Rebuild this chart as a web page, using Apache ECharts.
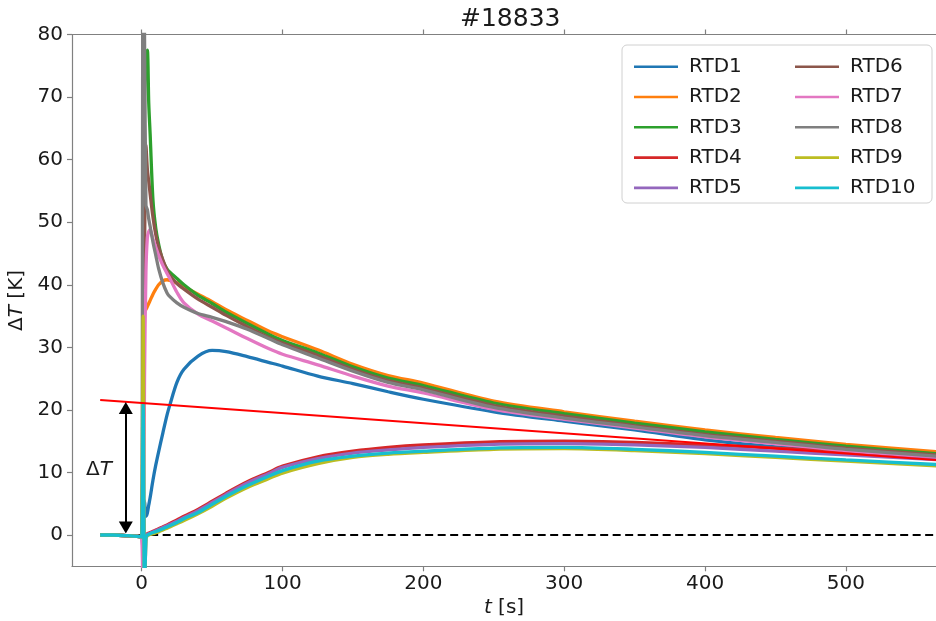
<!DOCTYPE html>
<html>
<head>
<meta charset="utf-8">
<script src="https://cdn.jsdelivr.net/npm/echarts@6/dist/echarts.min.js"></script>
<style>
  html, body { margin: 0; padding: 0; background: #fff; }
  #chart { width: 936px; height: 621px; }
</style>
</head>
<body>
<div id="chart"></div>
<script>
// time axis of the samples [s]
var times = [-29.5, -20, -10, -1, 0, 1, 2, 3, 4, 5, 6, 8, 10, 12, 15, 18, 20, 25, 30, 40, 50, 60, 75, 90, 100, 125, 150, 175, 200, 250, 300, 350, 400, 450, 500, 570];

var rtd1  = [0, 0, -0.1, -0.25, -0.3, -0.5, 5.5, 3, 3.5, 4.8, 6, 8.8, 11.2, 13.3, 16.3, 19.2, 20.8, 24.4, 26.5, 28.6, 29.5, 29.3, 28.5, 27.6, 27.0, 25.4, 24.2, 22.9, 21.7, 19.7, 18.2, 16.8, 15.2, 14.1, 13.3, 12.2];
var rtd2  = [0, 0, -0.1, -0.25, -0.3, 10, 45, 36, 36.5, 37, 37.5, 38.5, 39.3, 40, 40.6, 40.8, 40.7, 40.3, 39.7, 38.5, 37.3, 36.0, 34.3, 32.6, 31.7, 29.6, 27.3, 25.5, 24.3, 21.4, 19.7, 18.2, 16.8, 15.6, 14.5, 13.2];
var rtd3  = [0, 0, -0.1, -0.25, -0.3, 38, 70, 76, 77.5, 69, 64, 53.5, 49, 46.5, 43.8, 42.5, 42, 41, 40.0, 38.3, 37.0, 35.6, 33.8, 32.1, 31.1, 29.1, 26.9, 25.1, 23.9, 21.1, 19.4, 17.9, 16.5, 15.3, 14.2, 12.9];
var rtd4  = [0, 0, -0.1, -0.25, -0.3, 3, -1, 0, 0.2, 0.3, 0.4, 0.6, 0.8, 1.0, 1.3, 1.6, 1.85, 2.4, 3.0, 4.1, 5.4, 6.7, 8.5, 10.0, 11.0, 12.5, 13.4, 14.0, 14.4, 14.9, 15.0, 14.8, 14.4, 13.9, 13.3, 12.4];
var rtd5  = [0, 0, -0.1, -0.25, -0.3, -3, -10, -0.5, 0.1, 0.2, 0.3, 0.5, 0.7, 0.9, 1.2, 1.5, 1.7, 2.2, 2.8, 3.9, 5.2, 6.5, 8.3, 9.8, 10.8, 12.2, 13.1, 13.6, 14.0, 14.5, 14.6, 14.4, 14.0, 13.4, 12.8, 12.0];
var rtd6  = [0, 0, -0.1, -0.25, -0.3, 20, 45, 62.3, 58.5, 56.5, 54.5, 50.8, 48, 46, 44, 42.3, 41.5, 40.2, 39.3, 37.7, 36.4, 35.1, 33.3, 31.6, 30.7, 28.7, 26.5, 24.7, 23.5, 20.7, 19.0, 17.5, 16.1, 15.0, 13.9, 12.7];
var rtd7  = [0, 0, -0.1, -0.25, -0.3, -10, 25, 42, 47.5, 48.5, 48.8, 47.3, 46, 44.7, 43.1, 41.8, 41.0, 38.8, 37.1, 35.3, 34.2, 33.1, 31.4, 29.8, 28.9, 27.2, 25.4, 23.8, 22.7, 20.1, 18.5, 17.1, 15.7, 14.6, 13.5, 12.4];
var rtd8  = [0, 0, -0.1, -0.25, -0.3, 100, 80, 52.7, 52, 50.5, 49.3, 46.8, 44.7, 42.6, 40.3, 38.7, 38.1, 37.1, 36.4, 35.4, 34.8, 34.1, 32.9, 31.4, 30.4, 28.3, 26.2, 24.4, 23.2, 20.4, 18.7, 17.3, 15.9, 14.8, 13.7, 12.5];
var rtd9  = [0, 0, -0.1, -0.25, -0.3, 35, -10, -0.7, -0.1, 0, 0.1, 0.2, 0.35, 0.5, 0.8, 1.1, 1.3, 1.8, 2.3, 3.4, 4.6, 5.9, 7.6, 9.0, 9.9, 11.4, 12.4, 12.9, 13.2, 13.7, 13.8, 13.5, 13.0, 12.4, 11.8, 11.0];
var rtd10 = [0, 0, -0.1, -0.25, -0.3, 21, -10, -0.5, 0, 0.1, 0.2, 0.4, 0.55, 0.7, 1.0, 1.3, 1.5, 2.0, 2.6, 3.6, 4.9, 6.2, 7.9, 9.4, 10.3, 11.8, 12.6, 13.1, 13.4, 13.9, 14.0, 13.7, 13.2, 12.6, 12.0, 11.2];

var names  = ['RTD1', 'RTD2', 'RTD3', 'RTD4', 'RTD5', 'RTD6', 'RTD7', 'RTD8', 'RTD9', 'RTD10'];
var values = [rtd1, rtd2, rtd3, rtd4, rtd5, rtd6, rtd7, rtd8, rtd9, rtd10];
var colors = ['#1f77b4', '#ff7f0e', '#2ca02c', '#d62728', '#9467bd', '#8c564b', '#e377c2', '#7f7f7f', '#bcbd22', '#17becf'];

// red straight line and zero reference
var fitT = [-29.5, 570];
var fitV = [21.6, 11.9];
var zeroT = [-29.5, 570];
var zeroV = [0, 0];

// double arrow and its label
var arrowT = -11.3;
var arrowV = [1.2, 20.3];
var labelPos = [-30.3, 10.4];

var xTicks = [0, 100, 200, 300, 400, 500];
var yTicks = [0, 10, 20, 30, 40, 50, 60, 70, 80];

function zip(a, b) {
    return a.map(function (t, i) { return [t, b[i]]; });
}

var font = 'DejaVu Sans';
var spine = '#808080';
var ink = '#1a1a1a';

var chart = echarts.init(document.getElementById('chart'));

var series = [{
    name: 'zero',
    type: 'line',
    symbol: 'none',
    data: zip(zeroT, zeroV),
    lineStyle: { color: '#000', width: 2, type: [8, 4.5] },
    silent: true
}];

names.forEach(function (n, i) {
    series.push({
        name: n,
        type: 'line',
        symbol: 'none',
        smooth: 0.3,
        data: zip(times, values[i]),
        itemStyle: { color: colors[i] },
        lineStyle: { color: colors[i], width: 3.3 }
    });
});

series.push({
    name: 'fit',
    type: 'line',
    symbol: 'none',
    data: zip(fitT, fitV),
    lineStyle: { color: '#ff0000', width: 2 },
    silent: true
});

series.push({
    name: 'arrow',
    type: 'line',
    data: [],
    markLine: {
        silent: true,
        symbol: ['triangle', 'triangle'],
        symbolSize: [14, 12],
        label: { show: false },
        lineStyle: { color: '#000', width: 2, type: 'solid' },
        data: [[{ coord: [arrowT, arrowV[0]] }, { coord: [arrowT, arrowV[1]] }]]
    },
    markPoint: {
        silent: true,
        data: [{
            coord: labelPos,
            symbol: 'circle',
            symbolSize: 0,
            label: {
                show: true,
                position: 'inside',
                formatter: '{d|Δ}{i|T}',
                rich: {
                    d: { fontFamily: font, fontSize: 20, color: ink },
                    i: { fontFamily: font, fontSize: 20, fontStyle: 'italic', color: ink }
                }
            }
        }]
    }
});

function legendFor(list, left) {
    return {
        data: list,
        orient: 'vertical',
        left: left,
        top: 51.7,
        icon: 'rect',
        itemWidth: 44,
        itemHeight: 2.6,
        itemGap: 10.3,
        z: 20,
        textStyle: { fontFamily: font, fontSize: 20, color: ink, lineHeight: 20, padding: [0, 0, 0, 6] }
    };
}

var option = {
    animation: false,
    backgroundColor: '#fff',
    title: {
        text: '#18833',
        left: 455,
        top: 2,
        textStyle: { fontFamily: font, fontSize: 25, fontWeight: 'normal', color: ink }
    },
    grid: { left: 72, right: 0, top: 34.5, bottom: 54.7, outerBoundsMode: 'none', containLabel: false },
    legend: [legendFor(names.slice(0, 5), 629), legendFor(names.slice(5), 790)],
    graphic: [{
        type: 'rect',
        z: 10,
        shape: { x: 622, y: 45, width: 310, height: 158, r: 5 },
        style: { fill: 'rgba(255,255,255,0.85)', stroke: '#d0d0d0', lineWidth: 1 }
    }],
    xAxis: [{
        type: 'value',
        min: -49.5,
        max: 564,
        position: 'bottom',
        name: '{i|t} [s]',
        nameLocation: 'middle',
        nameGap: 28,
        nameTextStyle: {
            fontFamily: font, fontSize: 20, color: ink,
            rich: { i: { fontFamily: font, fontSize: 20, fontStyle: 'italic', color: ink } }
        },
        axisLine: { show: true, onZero: false, lineStyle: { color: spine, width: 1.2 } },
        axisTick: { show: true, length: 5, customValues: xTicks, lineStyle: { color: spine, width: 1.2 } },
        axisLabel: { customValues: xTicks, fontFamily: font, fontSize: 20, color: ink, margin: 7 },
        splitLine: { show: false }
    }, {
        type: 'value',
        min: -49.5,
        max: 564,
        position: 'top',
        axisLine: { show: true, onZero: false, lineStyle: { color: spine, width: 1.2 } },
        axisTick: { show: true, length: 5, customValues: xTicks, lineStyle: { color: spine, width: 1.2 } },
        axisLabel: { show: false },
        splitLine: { show: false }
    }],
    yAxis: {
        type: 'value',
        min: -5,
        max: 80,
        name: '{d|Δ}{i|T} [K]',
        nameLocation: 'middle',
        nameGap: 40,
        nameRotate: 90,
        nameTextStyle: {
            fontFamily: font, fontSize: 20, color: ink,
            rich: {
                d: { fontFamily: font, fontSize: 20, color: ink },
                i: { fontFamily: font, fontSize: 20, fontStyle: 'italic', color: ink }
            }
        },
        axisLine: { show: true, onZero: false, lineStyle: { color: spine, width: 1.2 } },
        axisTick: { show: true, length: 5, customValues: yTicks, lineStyle: { color: spine, width: 1.2 } },
        axisLabel: { customValues: yTicks, fontFamily: font, fontSize: 20, color: ink, margin: 9 },
        splitLine: { show: false }
    },
    series: series
};

option && chart.setOption(option);
</script>
</body>
</html>
